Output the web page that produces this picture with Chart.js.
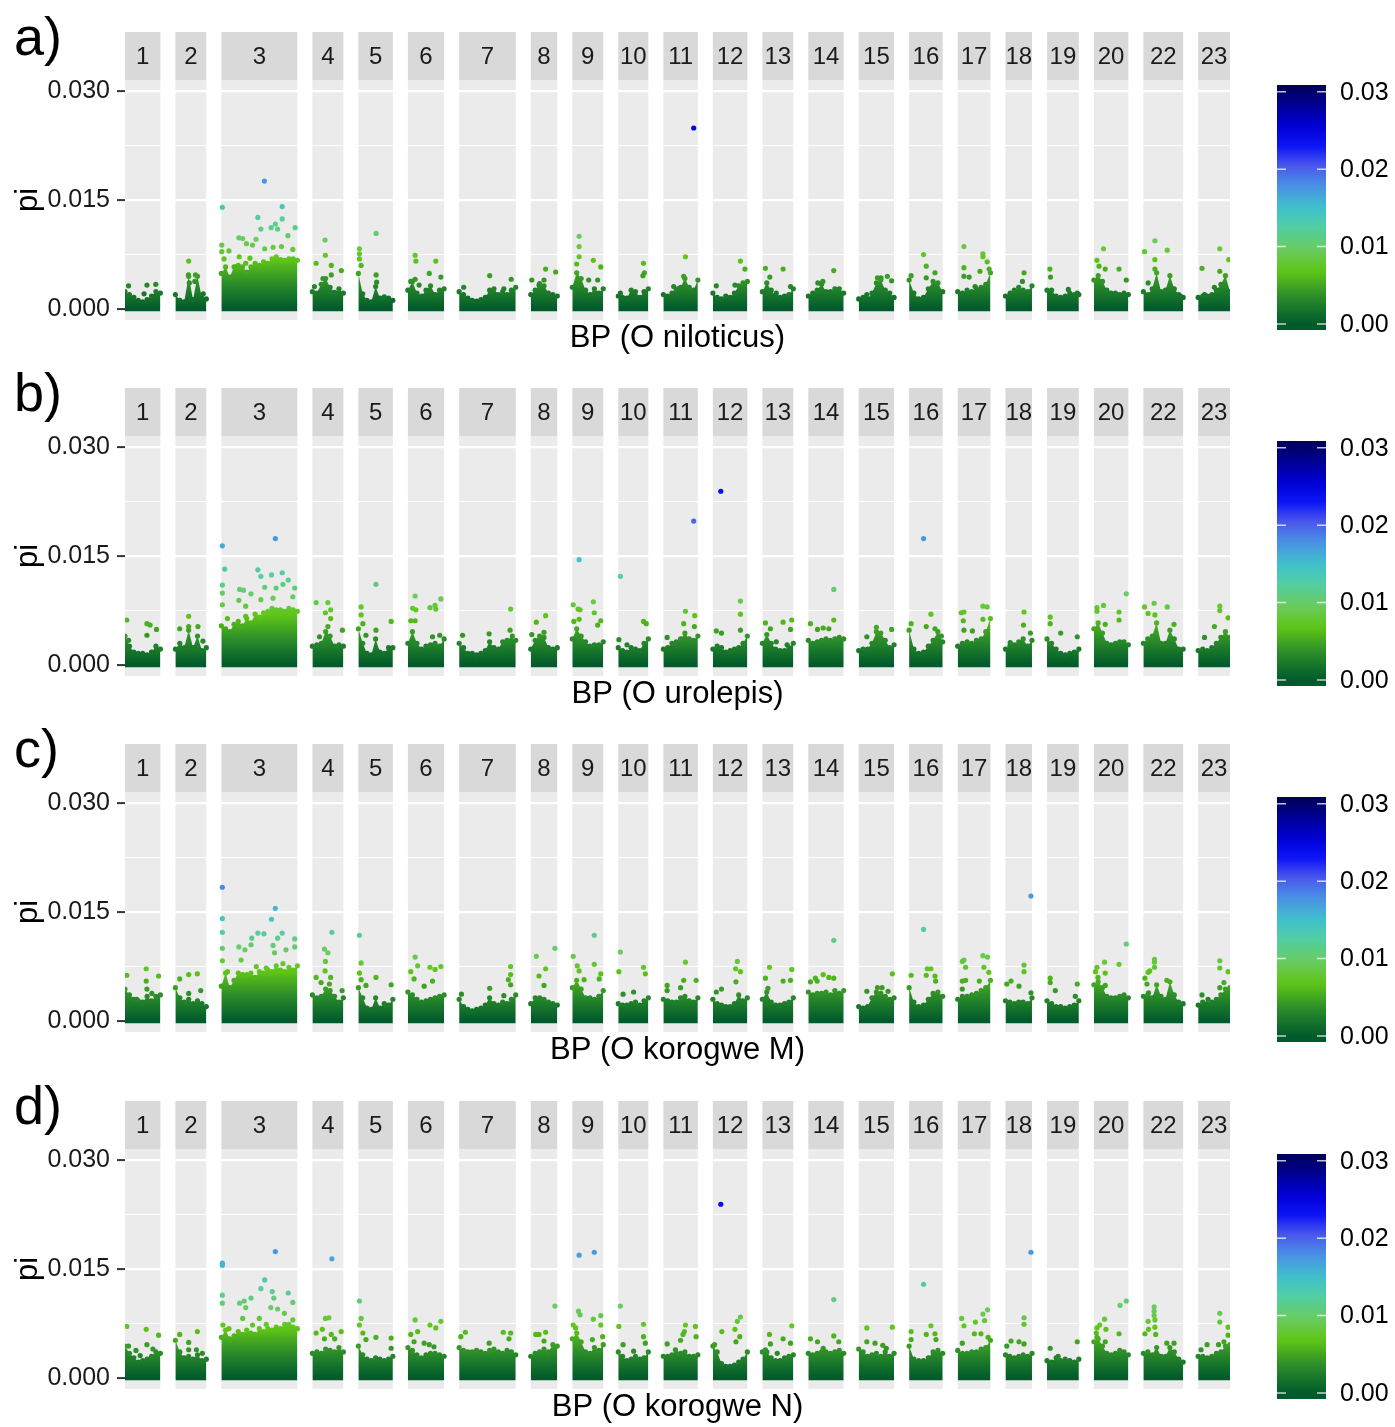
<!DOCTYPE html>
<html>
<head>
<meta charset="utf-8">
<script src="https://cdn.jsdelivr.net/npm/chart.js@4.4.1/dist/chart.umd.min.js"></script>
<style>
  html, body { margin: 0; padding: 0; background: #fff; }
  #wrap { position: relative; width: 1395px; height: 1427px; overflow: hidden; }
  #wrap canvas { position: absolute; left: 0; }
</style>
</head>
<body>
<div id="wrap"></div>
<script>
// chromosomes (facets) and their lengths in Mb
const chroms = ['1','2','3','4','5','6','7','8','9','10','11','12','13','14','15','16','17','18','19','20','22','23'];
const chromLen = [40,35,86,35,39,41,64,30,35,34,39,39,35,40,40,38,37,30,36,39,45,36];

const yTicks = [0, 0.015, 0.030];
const yMinor = [0.0075, 0.0225];
const legendTicks = [0, 0.01, 0.02, 0.03];
const panelTags = ['a)', 'b)', 'c)', 'd)'];
const xTitles = ['BP (O niloticus)', 'BP (O urolepis)', 'BP (O korogwe M)', 'BP (O korogwe N)'];

// pi x 1000: top of the dense window cloud, windows evenly along each chromosome
const bandA = [
  [2.4,2.0,1.6,1.2,1.0,1.3,1.8,2.4,2.2],
  [2.0,1.2,1.0,4.5,1.3,4.5,1.5,1.4],
  [4.9,5.8,4.4,5.8,6.0,5.8,5.1,5.8,6.3,6.0,6.5,6.3,6.9,7.2,6.8,6.7,6.9,6.9,6.7],
  [2.4,2.2,3.4,4.2,3.0,2.3,2.8,2.2],
  [4.9,2.1,1.2,1.0,3.1,1.5,1.7,1.5,1.2],
  [2.6,3.8,2.2,1.8,2.6,3.2,2.0,2.6,2.8],
  [2.4,2.0,1.5,1.2,1.1,1.3,1.6,2.6,2.8,2.0,2.4,2.0,2.6,3.0],
  [2.0,2.6,3.5,3.2,2.2,2.0,1.8],
  [3.0,5.0,4.2,2.6,2.0,2.8,2.2,2.8],
  [1.8,1.6,1.5,2.6,2.4,1.6,2.4,2.8],
  [2.0,1.8,2.2,2.6,3.0,4.2,3.0,2.6,4.0],
  [2.2,1.6,1.4,1.8,1.6,2.2,3.2,3.6,3.8],
  [2.4,3.6,2.6,1.8,1.6,1.8,2.0,2.8],
  [1.8,2.2,2.6,3.4,2.4,2.4,2.8,2.8,2.2],
  [1.4,1.6,1.4,2.2,3.6,4.0,2.6,2.2,1.6],
  [4.0,2.2,1.4,1.6,2.8,3.8,3.6,2.4],
  [2.4,2.2,2.6,2.4,2.8,3.0,3.4,5.0],
  [1.8,2.0,2.6,3.0,2.6,2.4,3.2],
  [2.6,2.6,1.8,1.6,1.8,2.2,2.0,2.0],
  [4.0,4.6,3.8,2.6,2.2,2.2,2.0,2.2,2.0],
  [2.4,2.0,2.8,5.0,2.4,2.6,4.6,2.8,2.0,1.6],
  [1.6,1.8,1.8,2.0,2.6,3.4,4.6,2.4]
];
const bandB = [
  [4.0,2.6,1.8,1.6,1.6,1.4,1.8,2.6,2.2],
  [2.2,3.0,2.4,4.8,2.4,4.0,2.0,2.4],
  [5.4,5.0,4.6,5.6,6.0,5.4,6.4,5.8,7.0,6.6,7.2,7.4,7.8,7.6,7.6,7.4,7.8,7.6,7.4],
  [2.6,2.8,3.0,4.6,4.0,2.6,2.8,2.6],
  [5.0,3.0,1.6,1.4,3.6,1.8,1.6,2.4,2.4],
  [3.0,4.6,3.0,2.2,2.6,2.8,3.0,2.6,3.6],
  [3.0,2.4,1.6,1.6,1.4,1.6,2.0,3.2,2.4,2.2,3.2,3.4,3.4,3.4],
  [2.2,3.4,4.0,3.8,2.4,2.2,2.4],
  [3.6,5.0,4.0,3.2,2.6,2.8,2.8,3.2],
  [2.4,2.0,1.8,2.4,2.2,2.0,3.0,3.6],
  [2.2,2.4,3.0,3.2,3.6,4.4,3.6,3.4,4.0],
  [2.2,2.6,2.4,1.8,2.0,2.2,2.4,3.0,4.0],
  [3.0,4.2,3.0,2.2,2.0,2.0,2.4,3.0],
  [3.4,3.0,3.2,3.4,3.6,3.4,3.6,3.8,3.6],
  [2.0,2.2,2.2,3.0,4.6,4.4,3.4,2.4,2.8],
  [4.8,2.2,1.6,1.8,2.6,3.4,4.6,3.2],
  [2.6,3.0,3.2,3.0,3.4,3.6,4.6,6.4],
  [2.2,2.6,2.8,3.2,3.6,2.6,3.4],
  [3.6,3.0,2.2,1.6,1.4,1.6,1.8,2.2],
  [5.0,5.8,4.4,3.0,2.8,3.0,3.2,3.2,2.8],
  [3.0,3.6,4.0,5.8,3.0,3.0,4.8,3.6,2.2,2.2],
  [2.0,2.2,2.0,2.4,3.0,3.8,4.6,3.8]
];
const bandC = [
  [4.4,3.6,3.0,2.8,2.6,3.4,2.8,3.4,3.6],
  [4.6,3.2,2.6,3.0,2.4,2.8,2.4,2.0],
  [4.8,6.6,4.6,5.6,6.6,6.4,6.4,6.6,6.0,6.8,6.6,7.0,6.8,7.6,7.0,6.8,7.4,7.0,7.6],
  [3.6,3.2,3.4,4.4,4.2,3.4,2.6,3.2],
  [4.6,3.2,1.8,1.6,3.2,1.8,2.4,2.2,3.0],
  [4.0,3.6,3.0,2.6,2.8,3.0,3.2,3.4,3.6],
  [3.0,2.0,1.6,1.4,1.6,1.8,2.2,3.2,2.4,2.2,2.6,2.4,3.0,3.6],
  [2.4,3.2,3.2,3.0,2.6,2.4,2.2],
  [4.6,5.6,4.4,3.2,3.2,3.0,3.4,4.2],
  [2.4,2.2,2.2,2.4,2.6,2.2,2.8,3.2],
  [3.0,2.8,2.6,2.6,3.2,3.4,2.8,2.6,3.2],
  [3.0,2.4,2.2,2.0,2.0,2.4,3.6,2.8,3.2],
  [3.0,4.0,2.6,2.2,2.2,2.4,2.6,3.2],
  [4.0,3.6,3.8,3.8,4.0,3.6,4.2,3.8,4.2],
  [2.0,1.8,2.0,3.2,4.0,3.8,3.4,3.0,3.2],
  [4.6,2.6,2.0,2.2,3.0,3.8,4.0,3.4],
  [3.0,3.4,3.4,3.6,3.8,4.2,4.6,5.6],
  [2.8,2.6,2.4,2.6,2.6,2.4,3.2],
  [2.8,2.4,2.0,2.0,1.8,2.0,2.2,2.8],
  [5.0,5.4,4.6,3.4,3.2,3.2,3.4,3.6,3.2],
  [3.4,3.6,3.2,5.0,3.4,3.0,5.4,3.6,2.6,2.4],
  [2.2,2.6,2.4,2.6,3.0,3.6,4.4,4.6]
];
const bandD = [
  [4.4,3.4,2.8,2.2,2.4,2.6,3.0,3.6,3.4],
  [5.2,3.6,2.8,3.0,2.6,3.2,2.4,2.6],
  [5.6,6.6,5.4,5.8,6.4,6.0,6.6,6.2,6.0,6.8,6.4,6.8,6.6,7.0,6.8,7.4,7.4,7.0,6.8],
  [3.4,3.6,3.4,4.0,3.8,3.6,4.2,3.6],
  [4.4,3.2,2.6,2.4,2.8,2.6,2.4,2.6,3.0],
  [4.2,3.8,3.2,2.8,3.2,3.4,3.4,3.2,3.0],
  [4.2,3.8,3.6,3.6,3.8,3.6,3.4,3.8,4.0,3.6,3.4,3.8,3.6,3.2],
  [3.0,3.4,3.6,4.0,3.6,4.6,4.4],
  [5.4,6.2,5.0,3.6,3.4,4.2,3.8,4.6],
  [3.6,3.0,2.4,2.6,3.0,2.6,2.8,3.6],
  [3.0,3.0,3.2,3.4,3.4,3.6,3.0,3.0,3.2],
  [4.4,3.6,2.0,1.6,1.6,1.8,2.2,2.6,3.6],
  [3.6,3.6,2.8,2.4,2.4,2.8,3.0,3.2],
  [3.4,3.2,3.4,3.6,3.6,3.4,3.6,3.8,3.4],
  [4.0,3.6,3.0,3.2,3.4,3.0,3.6,3.0,3.4],
  [4.4,2.6,2.4,2.4,2.8,3.6,3.8,3.4],
  [3.8,3.4,3.4,3.6,3.6,4.0,4.2,5.2],
  [3.2,3.0,2.8,3.0,3.2,3.0,3.4],
  [2.4,2.2,2.8,2.4,2.6,2.4,2.2,2.6],
  [5.0,5.4,4.4,3.4,3.2,3.4,3.8,3.6,3.2],
  [3.4,3.6,3.2,4.2,3.0,3.0,4.2,3.6,2.6,2.2],
  [3.0,3.0,2.8,3.0,3.4,3.6,4.4,4.6]
];

// windows standing above the cloud: [% along chromosome, pi x 1000]
const hiA = [
  [[10,3.2],[62,3.3],[87,3.4],[54,2.1]],
  [[43,6.6],[42,4.7],[65,4.7],[63,3.8],[90,2.1],[45,3.6]],
  [[56.6,17.6],[1.3,14.0],[80,14.1],[48,12.6],[80,12.4],[71,11.7],[52,11.0],[65.5,11.2],[74,11.0],[97,11.2],[23,9.8],[28,9.7],[45.6,9.6],[87.6,10.1],[33,9.0],[41,8.8],[57,8.3],[68,8.5],[79,8.6],[94,8.2],[0.5,8.8],[0.5,7.9],[10,8.0],[3.5,6.9],[23.5,7.2],[37.6,7.0],[19,5.8],[32,6.3]],
  [[41,9.5],[12,6.3],[42,7.4],[61,6.0],[61,4.7],[93.5,5.3],[34,4.2],[6.5,3.1]],
  [[3,8.3],[3,7.6],[3,6.9],[8,6.0],[51.5,10.4],[51.5,4.7],[53,3.7]],
  [[20,7.4],[22,6.6],[77,6.6],[59,4.9],[8,3.8],[20,4.1],[91,4.4],[31,3.3]],
  [[54,4.6],[8,3.0],[92,4.1],[79,2.8]],
  [[56,5.5],[94,5.1],[4,4.0],[31,3.3],[50,4.0]],
  [[22,10.0],[22,8.6],[22,7.2],[14,6.2],[68,6.7],[92,5.8],[53,4.0],[82,4.0]],
  [[84,6.3],[87,5.0],[82,4.6],[7,2.2]],
  [[88,24.9],[64,7.2],[59,4.5],[30,3.1],[42,2.8]],
  [[80,6.6],[93,5.5],[10,3.2],[64,3.3]],
  [[10,5.6],[67,5.5],[24,4.4],[91,3.1],[45,2.2]],
  [[72,5.3],[27,3.6],[41,3.8]],
  [[81,4.5],[93,3.9],[53,4.3],[63,4.3],[23,2.0]],
  [[43,7.5],[51,5.9],[77,5.0],[51,4.3],[6,4.6]],
  [[19,8.6],[77,7.6],[77,7.2],[90,6.5],[96,5.5],[19,5.7],[19,4.5],[35,4.4],[68,5.2],[53,3.1]],
  [[70,5.0],[64,3.8],[18,2.2]],
  [[9,5.5],[11,4.4],[67,2.7],[95,2.2]],
  [[28,8.3],[9,6.7],[15,5.9],[73,5.5],[94,4.0],[33,5.5]],
  [[29,9.4],[3,7.9],[60,8.1],[29,6.8],[29,5.5],[12,3.6],[93,1.8]],
  [[68,8.3],[96,6.8],[12,5.6],[68,5.2],[51,3.0],[20,2.0]]
];
const hiB = [
  [[5,6.2],[62,5.7],[71,5.5],[89,4.9],[62,4.1],[10,3.4]],
  [[43,6.7],[14,5.0],[73,5.3],[89,3.3],[43,5.3]],
  [[1.3,16.4],[71,17.4],[4.4,13.2],[48,13.1],[52,12.2],[66,12.4],[80,12.7],[88,11.7],[81,11.1],[1.3,11.0],[57,10.7],[72,10.6],[24,10.4],[29,10.3],[39,9.8],[96.5,10.6],[23,8.9],[32,8.1],[52,9.0],[68,9.2],[94,9.4],[1.3,8.3],[8,6.4],[32,6.7],[1.3,9.9]],
  [[12,8.6],[50,8.6],[42,7.2],[59,7.6],[59,6.4],[50,5.3],[97,4.8],[23,3.9]],
  [[8,8.0],[8,6.9],[13,5.7],[51,11.1],[51,4.8],[95,6.0],[22,4.1]],
  [[20,9.5],[13,7.8],[22,7.6],[8,6.1],[20,6.1],[61,7.9],[75,8.2],[91,9.1],[77,7.7],[68,3.9],[88,4.1]],
  [[91,7.7],[90,4.8],[94,4.0],[53,4.3],[6,4.1]],
  [[21,5.9],[56,6.8],[4,4.2],[50,4.5]],
  [[22,14.5],[3,8.3],[18.5,7.7],[25,7.6],[68,8.7],[71,7.2],[92,6.1],[82,5.5],[22,6.3],[5,6.0]],
  [[7,12.2],[84,6.0],[93,5.7],[2,3.5],[29,2.8]],
  [[88,19.8],[64,7.4],[59,5.7],[91,6.8],[90,5.3],[11,3.8]],
  [[23,23.9],[80,8.8],[80,7.0],[80,4.8],[10,4.7],[25,4.4]],
  [[10,5.8],[67,5.9],[95,6.2],[26,5.0],[91,4.9],[45,3.2],[80,2.8]],
  [[72,10.4],[72,6.2],[6,5.7],[26,4.9],[42,5.1],[58,5.0]],
  [[23,3.9],[50,5.2],[93,4.9],[8,1.6]],
  [[43,17.4],[65,7.0],[51,5.3],[77,5.0],[6,5.7],[96,4.0]],
  [[10.5,7.2],[19,7.3],[77,8.1],[89.5,8.0],[77,6.3],[17,6.1],[19,4.8],[45,4.7]],
  [[70,7.3],[68,5.5],[18,3.1],[94,4.4]],
  [[10,6.6],[10,5.7],[43,4.4],[95,3.9]],
  [[94,9.8],[28,8.2],[9,7.9],[9,7.4],[73,7.3],[73,6.2],[33,5.6]],
  [[27,8.5],[3,8.0],[60,8.0],[29,6.9],[12,7.1],[77,5.6]],
  [[68,8.1],[68,7.5],[94,6.5],[51,5.3],[20,3.8]]
];
const hiC = [
  [[60,7.2],[5,6.3],[60,5.5],[95,6.2],[62,4.4],[76,3.8],[33,3.0]],
  [[14,5.8],[43,6.4],[71,6.5],[43,3.8],[82,4.2]],
  [[1.3,18.4],[71,15.5],[66,14.0],[1.3,14.1],[1.3,12.2],[48,12.1],[56,12.0],[80,12.1],[74,11.4],[40,11.4],[96.5,11.3],[68,10.4],[23,10.2],[31,9.8],[39,10.5],[85,9.8],[96.5,10.2],[70,9.4],[1.3,10.0],[1.3,8.3],[26,8.4],[59,7.3],[46,7.5],[8,6.8],[81,7.9]],
  [[63,12.2],[39,9.9],[50,9.4],[42,8.2],[12,6.0],[41,6.9],[59,6.0],[55,5.1],[96,4.2],[28,5.3]],
  [[3,11.8],[8,8.0],[3,6.6],[8,5.7],[22,4.9],[51,6.0],[95,5.0]],
  [[20,8.8],[27,7.6],[61,7.4],[75,7.1],[91,7.5],[8,6.8],[17,5.8],[68,5.5],[45,4.8]],
  [[91,7.5],[91,6.4],[87,5.7],[91,5.0],[54,4.5],[79,3.5],[4,3.7]],
  [[91,10.0],[21,8.9],[56,7.2],[31,6.2],[50,4.9]],
  [[71,11.8],[3,8.9],[16,7.6],[22,6.9],[71,7.8],[92,6.5],[38,5.7],[87,5.8]],
  [[7,9.5],[2,6.8],[84,7.4],[90,6.5],[16,3.7],[51,4.0]],
  [[64,8.1],[59,5.6],[95,5.6],[11,4.9],[11,4.2],[50,4.6]],
  [[71,8.2],[66,7.2],[80,6.8],[67,5.4],[25,4.4],[10,4.0]],
  [[23,7.4],[95,7.1],[10,5.9],[67,5.5],[91,5.6],[18,4.5]],
  [[72,11.1],[42,6.4],[58,6.0],[72,5.9],[20,5.9],[6,5.4],[25,5.5]],
  [[95,6.5],[23,4.1],[53,4.6],[66,4.6],[83,4.1]],
  [[43,12.6],[54,7.2],[65,7.2],[51,6.3],[77,6.2],[6,6.3],[79,5.5]],
  [[19,8.4],[14,8.2],[24,7.4],[77,9.0],[91,8.8],[80,7.4],[95,6.7],[14,5.5],[24,5.6],[66,5.5],[14,4.4]],
  [[96,17.2],[70,7.7],[70,6.8],[21,5.5],[5,5.1],[51,4.8],[96,3.9]],
  [[10,5.9],[10,5.3],[26,4.2],[95,5.1],[89,3.4]],
  [[94,10.6],[31,8.1],[73,7.8],[9,7.4],[5,6.8],[12,6.0],[33,6.6],[33,4.9]],
  [[28,8.5],[28,8.1],[28,7.4],[16,6.9],[12,6.7],[4,5.9],[9,5.1],[59,5.6],[13,3.9]],
  [[68,8.3],[68,7.3],[94,6.8],[81,5.3],[68,4.6],[12,3.6],[31,3.0]]
];
const hiD = [
  [[5,7.1],[60,6.7],[10,4.4],[31,3.8],[62,4.6],[79,4.0],[95,5.9],[43,3.1]],
  [[14,6.0],[43,4.9],[71,6.4],[43,3.9],[68,3.9],[87,3.4]],
  [[1.3,15.8],[1.3,15.5],[71,17.4],[57,13.5],[52,12.3],[67,11.9],[88,11.7],[69,11.0],[1.3,11.4],[1.3,10.3],[24,10.3],[30,10.6],[39,11.0],[94,10.4],[32,9.7],[65,9.7],[74,9.5],[83,8.9],[28,8.2],[50,8.2],[94,8.0],[2,7.3],[10,6.8],[41,7.3],[59,7.4]],
  [[63,16.4],[42,8.2],[53,8.3],[32,6.7],[12,6.2],[61,6.0],[93,6.4],[72,5.4],[39,5.4]],
  [[3,10.6],[8,8.2],[3,7.3],[13,6.2],[22,5.3],[51,5.6],[95,5.5],[95,4.1]],
  [[20,8.0],[61,7.3],[77,6.9],[91,7.8],[8,6.0],[27,6.4],[17,5.0],[45,4.8],[59,4.6],[72,4.3]],
  [[11,6.3],[78,6.3],[91,6.2],[88,5.4],[53,4.8],[3,5.7]],
  [[91,9.9],[19,6.0],[31,6.0],[56,6.3],[50,5.1]],
  [[22,16.9],[71,17.3],[20,9.2],[25,8.7],[68,8.1],[92,8.6],[92,7.3],[3,7.3],[11,6.9],[65,5.3],[98,5.7]],
  [[7,9.9],[2,7.1],[84,7.4],[84,5.7],[90,4.8],[16,4.6],[51,3.7]],
  [[64,7.3],[61,6.4],[57,6.0],[93,7.1],[95,5.7],[50,5.2],[11,4.7],[35,3.9]],
  [[23,23.9],[80,8.4],[71,7.8],[64,6.7],[78,5.7],[26,6.4],[67,5.0],[5,4.6]],
  [[23,6.0],[26,4.7],[67,5.4],[95,7.2],[91,4.8],[10,3.9],[48,3.4]],
  [[72,10.8],[72,5.8],[6,5.4],[26,5.0],[86,5.0],[42,4.1]],
  [[23,6.9],[95,7.0],[23,5.0],[46,4.8],[68,4.5],[78,4.1]],
  [[43,12.9],[65,7.2],[51,6.0],[77,6.1],[6,6.4],[6,5.3],[80,5.3]],
  [[12,8.2],[19,7.2],[54,7.7],[77,8.8],[91,9.4],[82,7.9],[51,6.1],[71,6.1],[93,5.6],[14,4.8]],
  [[96,17.3],[70,8.3],[70,7.4],[21,5.1],[51,5.0],[70,4.7],[5,4.4]],
  [[10,4.1],[95,5.0],[35,3.0]],
  [[94,10.6],[76,10.0],[31,8.1],[17,7.3],[9,6.9],[7,6.2],[35,6.7],[73,6.1],[33,5.0],[9,5.6]],
  [[27,9.8],[27,9.2],[27,8.6],[29,8.0],[29,7.0],[12,7.8],[4,6.1],[13,6.7],[31,6.0],[59,4.8],[77,4.8]],
  [[68,8.9],[68,7.7],[94,7.0],[94,5.9],[81,5.0],[64,4.6],[28,4.6],[9,3.9]]
];

const panels = [
  { band: bandA, hi: hiA },
  { band: bandB, hi: hiB },
  { band: bandC, hi: hiC },
  { band: bandD, hi: hiD }
];

// colour scale for pi
const colourStops = [
  [0.0000, '#005a2b'],
  [0.0035, '#2b8c2a'],
  [0.0068, '#5ec516'],
  [0.0095, '#6acb5e'],
  [0.0125, '#52cfa4'],
  [0.0150, '#40c0cc'],
  [0.0180, '#4a8ee6'],
  [0.0205, '#4a56ec'],
  [0.0230, '#0c14f6'],
  [0.0255, '#0000d6'],
  [0.0307, '#00005a']
];
const TOP = colourStops[colourStops.length - 1][0];

const FONT = '"Liberation Sans", Arial, Helvetica, sans-serif';
const GAP = 17;            // Mb of empty axis between facets
const DOT = 2.6;
const panelTops = [0, 356, 712, 1069];

const starts = [];
let acc = 0;
chromLen.forEach(l => { starts.push(acc); acc += l + GAP; });
const xMax = acc - GAP;

function hexRgb(h) {
  return [1, 3, 5].map(i => parseInt(h.slice(i, i + 2), 16));
}
const stopRgb = colourStops.map(([v, c]) => [v, hexRgb(c)]);

function piColour(v) {
  if (v <= stopRgb[0][0]) return 'rgb(' + stopRgb[0][1].join(',') + ')';
  for (let i = 1; i < stopRgb.length; i++) {
    if (v <= stopRgb[i][0]) {
      const [v0, c0] = stopRgb[i - 1];
      const [v1, c1] = stopRgb[i];
      const t = (v - v0) / (v1 - v0);
      const c = c0.map((a, k) => Math.round(a + (c1[k] - a) * t));
      return 'rgb(' + c.join(',') + ')';
    }
  }
  return 'rgb(' + stopRgb[stopRgb.length - 1][1].join(',') + ')';
}

function bandFill(chart) {
  const area = chart.chartArea;
  const ys = chart.scales && chart.scales.y;
  if (!area || !ys) return '#1b7a30';
  if (chart.$bandGrad) return chart.$bandGrad;
  const y0 = ys.getPixelForValue(0);
  const y1 = ys.getPixelForValue(TOP);
  const g = chart.ctx.createLinearGradient(0, y0, 0, y1);
  colourStops.forEach(([v, c]) => g.addColorStop(v / TOP, c));
  chart.$bandGrad = g;
  return g;
}

function pointColour(ctx) {
  return piColour(ctx.raw ? ctx.raw.y : 0);
}

function buildDatasets(band, hi) {
  const tall = [];
  hi.forEach((pts, ci) => {
    pts.forEach(([pct, v]) => {
      tall.push({ x: starts[ci] + pct / 100 * chromLen[ci], y: v / 1000 });
    });
  });
  const ds = [{
    label: 'high',
    data: tall,
    showLine: false,
    fill: false,
    pointRadius: DOT,
    pointBorderWidth: 0,
    pointBackgroundColor: pointColour
  }];
  band.forEach((vals, ci) => {
    const n = vals.length;
    ds.push({
      label: 'chr' + chroms[ci],
      data: vals.map((v, i) => ({ x: starts[ci] + i / (n - 1) * chromLen[ci], y: v / 1000 })),
      borderColor: 'rgba(0,0,0,0)',
      borderWidth: 1,
      tension: 0,
      fill: { value: -0.0003 },
      backgroundColor: ctx => bandFill(ctx.chart),
      pointRadius: DOT,
      pointBorderWidth: 0,
      pointBackgroundColor: pointColour
    });
  });
  return ds;
}

const isMajor = v => yTicks.some(t => Math.abs(t - v) < 1e-9);

const facetDeco = {
  id: 'facetDeco',
  beforeDraw(chart, args, opts) {
    const { ctx, chartArea: a, scales: { x } } = chart;
    ctx.save();
    ctx.font = '24px ' + FONT;
    ctx.textAlign = 'center';
    ctx.textBaseline = 'middle';
    chromLen.forEach((len, i) => {
      const l = x.getPixelForValue(starts[i]);
      const r = x.getPixelForValue(starts[i] + len);
      ctx.fillStyle = '#EBEBEB';
      ctx.fillRect(l, a.top, r - l, a.bottom - a.top);
      ctx.fillStyle = '#D9D9D9';
      ctx.fillRect(l, a.top - 48, r - l, 48);
      ctx.fillStyle = '#1A1A1A';
      ctx.fillText(chroms[i], (l + r) / 2, a.top - 23);
    });
    ctx.restore();
  },
  afterDraw(chart, args, opts) {
    const { ctx, chartArea: a } = chart;
    ctx.save();
    ctx.fillStyle = '#000';
    // panel tag
    ctx.font = '54px ' + FONT;
    ctx.textAlign = 'left';
    ctx.textBaseline = 'alphabetic';
    ctx.fillText(opts.tag, 14, 55);
    // x title
    ctx.font = '31px ' + FONT;
    ctx.textAlign = 'center';
    ctx.fillText(opts.title, (a.left + a.right) / 2, 347);
    // y title
    ctx.save();
    ctx.translate(28, (a.top + a.bottom) / 2);
    ctx.rotate(-Math.PI / 2);
    ctx.textBaseline = 'middle';
    ctx.fillText('pi', 0, 0);
    ctx.restore();

    // colour bar
    const bx = 1277, bw = 49, bTop = 85, bBot = 330;
    const y0 = 324, per = (324 - 91.8) / 0.03;
    const vTop = (y0 - bTop) / per, vBot = (y0 - bBot) / per;
    const g = ctx.createLinearGradient(0, bBot, 0, bTop);
    const steps = 60;
    for (let i = 0; i <= steps; i++) {
      const v = vBot + (vTop - vBot) * i / steps;
      g.addColorStop(i / steps, piColour(v));
    }
    ctx.fillStyle = g;
    ctx.fillRect(bx, bTop, bw, bBot - bTop);
    ctx.strokeStyle = 'rgba(255,255,255,0.75)';
    ctx.lineWidth = 1.5;
    ctx.font = '25px ' + FONT;
    ctx.textAlign = 'left';
    ctx.textBaseline = 'middle';
    ctx.fillStyle = '#000';
    legendTicks.forEach(v => {
      const y = y0 - v * per;
      ctx.beginPath();
      ctx.moveTo(bx, y); ctx.lineTo(bx + 9, y);
      ctx.moveTo(bx + bw - 9, y); ctx.lineTo(bx + bw, y);
      ctx.stroke();
      ctx.fillText(v.toFixed(2), 1340, y + 1);
    });
    ctx.restore();
  }
};

const wrap = document.getElementById('wrap');
panels.forEach((p, pi) => {
  const cv = document.createElement('canvas');
  cv.width = 1395;
  cv.height = 357;
  cv.style.top = panelTops[pi] + 'px';
  wrap.appendChild(cv);

  new Chart(cv.getContext('2d'), {
    type: 'line',
    data: { datasets: buildDatasets(p.band, p.hi) },
    options: {
      responsive: false,
      animation: false,
      events: [],
      layout: { autoPadding: false, padding: { left: 0, right: 165, top: 80, bottom: 37 } },
      plugins: {
        legend: { display: false },
        tooltip: { enabled: false },
        facetDeco: { tag: panelTags[pi], title: xTitles[pi] }
      },
      scales: {
        x: { type: 'linear', min: 0, max: xMax, display: false },
        y: {
          type: 'linear',
          min: -0.0015,
          max: 0.0315,
          afterBuildTicks: s => { s.ticks = yTicks.concat(yMinor).sort((a, b) => a - b).map(v => ({ value: v })); },
          afterFit: s => { s.width = 125; },
          border: { display: false },
          grid: {
            color: '#FFFFFF',
            lineWidth: ctx => isMajor(ctx.tick.value) ? 2.2 : 1.1,
            tickColor: ctx => isMajor(ctx.tick.value) ? '#333333' : 'rgba(0,0,0,0)',
            tickLength: 8,
            tickWidth: 2
          },
          ticks: {
            autoSkip: false,
            padding: 7,
            color: '#1A1A1A',
            font: { family: FONT, size: 25 },
            callback: v => isMajor(v) ? v.toFixed(3) : ''
          }
        }
      }
    },
    plugins: [facetDeco]
  });
});
</script>
</body>
</html>
